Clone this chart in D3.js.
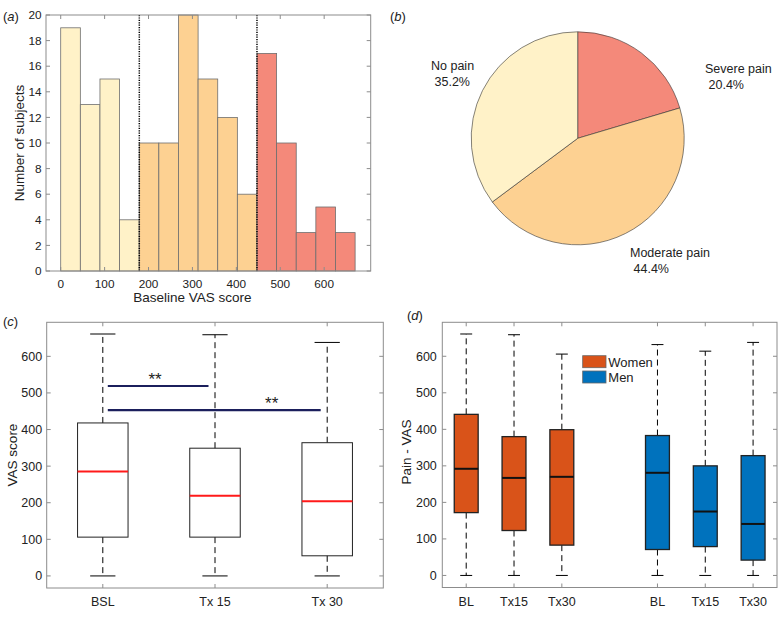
<!DOCTYPE html>
<html>
<head>
<meta charset="utf-8">
<script src="https://cdn.jsdelivr.net/npm/d3@7"></script>
<style>
  body { margin: 0; background: #fff; }
  text { font-family: "Liberation Sans", Arial, sans-serif; fill: #222; }
</style>
</head>
<body>
<svg id="chart" width="779" height="618"></svg>
<script>
// Panel (a) histogram
const histCounts = [19, 13, 15, 4, 10, 10, 20, 15, 12, 6, 17, 10, 3, 5, 3];
const binWidth = 44.7;
const cutoffs = [179, 447];
const xTicksA = [0, 100, 200, 300, 400, 500, 600];
const yTicksA = [0, 2, 4, 6, 8, 10, 12, 14, 16, 18, 20];

// Panel (b) pie
const pieLabels = ["Severe pain", "Moderate pain", "No pain"];
const pieValues = [20.4, 44.4, 35.2];

// Panel (c) box plot, all subjects
const boxCats = ["BSL", "Tx 15", "Tx 30"];
const boxCMin = [0, 0, 0];
const boxCQ1 = [106, 106, 55];
const boxCMed = [285, 219, 204];
const boxCQ3 = [418, 349, 364];
const boxCMax = [661, 659, 638];
const sigBars = [{ from: 0, to: 1, y: 519 }, { from: 0, to: 2, y: 453 }];

// Panel (d) box plot by sex
const sexCats = ["BL", "Tx15", "Tx30", "BL", "Tx15", "Tx30"];
const sexGroup = ["Women", "Women", "Women", "Men", "Men", "Men"];
const sexPos = [1, 2, 3, 5, 6, 7];
const sexMin = [0, 0, 0, 0, 0, 0];
const sexQ1 = [172, 123, 83, 71, 79, 42];
const sexMed = [292, 267, 270, 281, 175, 141];
const sexQ3 = [441, 380, 399, 383, 300, 328];
const sexMax = [661, 659, 606, 632, 614, 638];
const yTicksBox = [0, 100, 200, 300, 400, 500, 600];

const colors = {
  noPain: "#fff2c8", moderate: "#fdd192", severe: "#f4897a",
  women: "#d95319", men: "#0072bd"
};
const axisColor = "#8c8c8c";

const svg = d3.select("#chart");

function frame(g, x0, x1, y0, y1) {
  g.append("rect").attr("x", x0).attr("y", y0)
    .attr("width", x1 - x0).attr("height", y1 - y0)
    .attr("fill", "none").attr("stroke", axisColor).attr("stroke-width", 1);
}

function yTicks(g, y, ticks, x0, x1, pad, fs) {
  ticks.forEach(t => {
    g.append("line").attr("x1", x0).attr("x2", x0 + 4).attr("y1", y(t)).attr("y2", y(t)).attr("stroke", axisColor);
    g.append("line").attr("x1", x1).attr("x2", x1 - 4).attr("y1", y(t)).attr("y2", y(t)).attr("stroke", axisColor);
    g.append("text").attr("x", x0 - pad).attr("y", y(t) + fs * 0.36)
      .attr("text-anchor", "end").attr("font-size", fs).text(t);
  });
}

function xTicks(g, x, ticks, labels, y0, y1, labelY, fs) {
  ticks.forEach((t, i) => {
    g.append("line").attr("x1", x(t)).attr("x2", x(t)).attr("y1", y1).attr("y2", y1 - 4).attr("stroke", axisColor);
    g.append("line").attr("x1", x(t)).attr("x2", x(t)).attr("y1", y0).attr("y2", y0 + 4).attr("stroke", axisColor);
    g.append("text").attr("x", x(t)).attr("y", labelY)
      .attr("text-anchor", "middle").attr("font-size", fs).text(labels[i]);
  });
}

function panelLabel(x, y, letter) {
  const t = svg.append("text").attr("x", x).attr("y", y).attr("font-size", 13);
  t.append("tspan").text("(");
  t.append("tspan").attr("font-style", "italic").text(letter);
  t.append("tspan").text(")");
}

// ---------- (a) histogram ----------
const gA = svg.append("g");
const xA = d3.scaleLinear().domain([-33.5, 706]).range([46, 370.7]);
const yA = d3.scaleLinear().domain([0, 20]).range([271, 15]);

function binColor(lo) {
  if (lo < cutoffs[0] - 1) return colors.noPain;
  if (lo < cutoffs[1] - 1) return colors.moderate;
  return colors.severe;
}

gA.selectAll("rect.bar")
  .data(histCounts)
  .enter().append("rect")
  .attr("class", "bar")
  .attr("x", (d, i) => xA(i * binWidth))
  .attr("y", d => yA(d))
  .attr("width", xA(binWidth) - xA(0))
  .attr("height", d => yA(0) - yA(d))
  .attr("fill", (d, i) => binColor(i * binWidth))
  .attr("stroke", "#6e6e6e")
  .attr("stroke-width", 0.8);

cutoffs.forEach(c => {
  gA.append("line").attr("x1", xA(c)).attr("x2", xA(c))
    .attr("y1", yA(20)).attr("y2", yA(0))
    .attr("stroke", "#000").attr("stroke-width", 1.5)
    .attr("stroke-dasharray", "1.2,1.2");
});

frame(gA, 46, 370.7, 15, 271);
yTicks(gA, yA, yTicksA, 46, 370.7, 4.5, 11.8);
xTicks(gA, xA, xTicksA, xTicksA, 15, 271, 288, 11.8);
gA.append("text").attr("x", xA(300)).attr("y", 302).attr("text-anchor", "middle")
  .attr("font-size", 13.5).text("Baseline VAS score");
gA.append("text").attr("transform", "translate(23.5,143) rotate(-90)")
  .attr("text-anchor", "middle").attr("font-size", 13.5).text("Number of subjects");
panelLabel(3, 21, "a");

// ---------- (b) pie ----------
const gB = svg.append("g").attr("transform", "translate(577.7,138.3)");
const pie = d3.pie().sort(null).value(d => d);
const arc = d3.arc().innerRadius(0).outerRadius(106.5);
const pieColors = [colors.severe, colors.moderate, colors.noPain];
gB.selectAll("path")
  .data(pie(pieValues))
  .enter().append("path")
  .attr("d", arc)
  .attr("fill", (d, i) => pieColors[i])
  .attr("stroke", "#333")
  .attr("stroke-width", 0.6);

const pieLabelAt = [[705, 73], [630, 257], [431, 70]];
const total = d3.sum(pieValues);
pieLabels.forEach((name, i) => {
  const [lx, ly] = pieLabelAt[i];
  svg.append("text").attr("x", lx).attr("y", ly).attr("font-size", 12.5).text(name);
  svg.append("text").attr("x", lx + 3.5).attr("y", ly + 16).attr("font-size", 12.5)
    .text(d3.format(".1%")(pieValues[i] / total));
});
panelLabel(390, 21, "b");

// ---------- box plot helper ----------
function drawBoxes(g, x, y, positions, mins, q1, med, q3, maxs, width, fills, medColor, boxStroke) {
  positions.forEach((p, i) => {
    const cx = x(p);
    const half = width / 2;
    g.append("line").attr("x1", cx).attr("x2", cx).attr("y1", y(q3[i])).attr("y2", y(maxs[i]))
      .attr("stroke", "#000").attr("stroke-dasharray", "6,4");
    g.append("line").attr("x1", cx).attr("x2", cx).attr("y1", y(q1[i])).attr("y2", y(mins[i]))
      .attr("stroke", "#000").attr("stroke-dasharray", "6,4");
    [mins[i], maxs[i]].forEach(v => {
      g.append("line").attr("x1", cx - half / 2).attr("x2", cx + half / 2)
        .attr("y1", y(v)).attr("y2", y(v)).attr("stroke", "#000");
    });
    g.append("rect").attr("x", cx - half).attr("y", y(q3[i]))
      .attr("width", width).attr("height", y(q1[i]) - y(q3[i]))
      .attr("fill", fills[i]).attr("stroke", boxStroke.color).attr("stroke-width", boxStroke.width);
    g.append("line").attr("x1", cx - half).attr("x2", cx + half)
      .attr("y1", y(med[i])).attr("y2", y(med[i]))
      .attr("stroke", medColor).attr("stroke-width", 2);
  });
}

// ---------- (c) ----------
const gC = svg.append("g");
const xC = d3.scaleLinear().domain([0.5, 3.5]).range([46.7, 383.3]);
const yC = d3.scaleLinear().domain([-33, 693]).range([588, 322.3]);
const posC = boxCats.map((d, i) => i + 1);
drawBoxes(gC, xC, yC, posC, boxCMin, boxCQ1, boxCMed, boxCQ3, boxCMax,
  0.45 * (xC(1) - xC(0)), boxCats.map(() => "none"), "#ff1a1a", { color: "#222", width: 1 });

sigBars.forEach(s => {
  gC.append("line").attr("x1", xC(posC[s.from]) + 5).attr("x2", xC(posC[s.to]) - 6.5)
    .attr("y1", yC(s.y)).attr("y2", yC(s.y))
    .attr("stroke", "#1b1f5c").attr("stroke-width", 2.2);
});
gC.append("text").attr("x", 155).attr("y", yC(sigBars[0].y) - 1).attr("text-anchor", "middle")
  .attr("font-size", 17).text("**");
gC.append("text").attr("x", 271.7).attr("y", yC(sigBars[1].y) - 1).attr("text-anchor", "middle")
  .attr("font-size", 17).text("**");

frame(gC, 46.7, 383.3, 322.3, 588);
yTicks(gC, yC, yTicksBox, 46.7, 383.3, 4.5, 12.5);
xTicks(gC, xC, posC, boxCats, 322.3, 588, 606, 12.5);
gC.append("text").attr("transform", "translate(17,455) rotate(-90)")
  .attr("text-anchor", "middle").attr("font-size", 13.5).text("VAS score");
panelLabel(3, 326, "c");

// ---------- (d) ----------
const gD = svg.append("g");
const xD = d3.scaleLinear().domain([0.5, 7.5]).range([442.3, 777]);
const yD = d3.scaleLinear().domain([-33, 693]).range([587.5, 322.3]);
drawBoxes(gD, xD, yD, sexPos, sexMin, sexQ1, sexMed, sexQ3, sexMax,
  0.5 * (xD(1) - xD(0)), sexGroup.map(g => g === "Women" ? colors.women : colors.men),
  "#111", { color: "#222", width: 1.3 });

frame(gD, 442.3, 777, 322.3, 587.5);
yTicks(gD, yD, yTicksBox, 442.3, 777, 5.5, 12.5);
xTicks(gD, xD, sexPos, sexCats, 322.3, 587.5, 606, 12.5);
gD.append("text").attr("transform", "translate(411,452) rotate(-90)")
  .attr("text-anchor", "middle").attr("font-size", 13.5).text("Pain - VAS");
panelLabel(407, 320, "d");

// legend
const legendItems = ["Women", "Men"];
legendItems.forEach((name, i) => {
  const ly = 355.7 + i * 15.3;
  gD.append("rect").attr("x", 582.7).attr("y", ly).attr("width", 23.3).attr("height", 12)
    .attr("fill", name === "Women" ? colors.women : colors.men)
    .attr("stroke", "#666").attr("stroke-width", 0.8);
  gD.append("text").attr("x", 608.3).attr("y", ly + 11).attr("font-size", 13).text(name);
});
</script>
</body>
</html>
